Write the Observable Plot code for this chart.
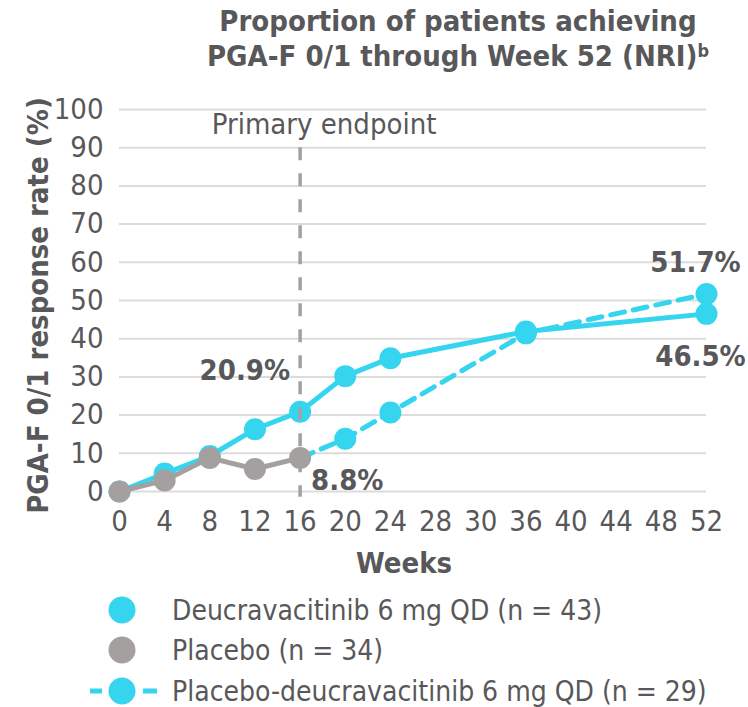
<!DOCTYPE html>
<html>
<head>
<meta charset="utf-8">
<script src="https://cdn.jsdelivr.net/npm/d3@7"></script>
<script src="https://cdn.jsdelivr.net/npm/@observablehq/plot@0.6"></script>
<style>
  html, body { margin: 0; padding: 0; background: #fff; }
  #wrap {
    position: relative; width: 748px; height: 707px; overflow: hidden;
    font-family: "DejaVu Sans Condensed", "DejaVu Sans", sans-serif;
    font-stretch: condensed;
    color: #58585a;
  }
  #chart { position: absolute; left: 0; top: 0; }
  #title {
    position: absolute; left: 186px; top: 4px; width: 544px;
    text-align: center; font-weight: bold; font-size: 29px; line-height: 35px;
  }
  #title .sup { font-size: 0.62em; position: relative; top: -0.5em; line-height: 0; }
  .lg-row {
    position: absolute; left: 84px; height: 34px;
    display: flex; align-items: center; font-size: 28px; white-space: nowrap;
  }
  .lg-row svg { width: 76px; height: 34px; margin-right: 12px; flex: none; }
</style>
</head>
<body>
<div id="wrap">
  <div id="chart"></div>
  <div id="title">Proportion of patients achieving<br>PGA-F 0/1 through Week 52 (NRI)<span class="sup">b</span></div>
  <div id="legend"></div>
</div>
<script>
// Response rates (%) by study week
const deucraWeeks = [0, 4, 8, 12, 16, 20, 24, 36, 52];
const deucraRate  = [0, 4.7, 9.3, 16.3, 20.9, 30.2, 34.9, 41.9, 46.5];

const placeboWeeks = [0, 4, 8, 12, 16];
const placeboRate  = [0, 2.9, 8.8, 5.9, 8.8];

// Placebo patients switched to deucravacitinib after Week 16
const switchWeeks = [16, 20, 24, 36, 52];
const switchRate  = [8.8, 13.8, 20.7, 41.4, 51.7];

const xTicks      = [0, 4, 8, 12, 16, 20, 24, 28, 32, 36, 40, 44, 48, 52];
const xTickLabels = ["0", "4", "8", "12", "16", "20", "24", "28", "30", "36", "40", "44", "48", "52"];
const yTicks      = [0, 10, 20, 30, 40, 50, 60, 70, 80, 90, 100];

const endpointWeek = 16;
const endpointText = "Primary endpoint";

const seriesNames = [
  "Deucravacitinib 6 mg QD (n = 43)",
  "Placebo (n = 34)",
  "Placebo-deucravacitinib 6 mg QD (n = 29)"
];

const CYAN = "#36d5ef";
const GREY = "#a5a0a0";
const TEXT = "#58585a";
const FONT = '"DejaVu Sans Condensed", "DejaVu Sans", sans-serif';

const toRows = (weeks, rates) => weeks.map((w, i) => ({week: w, rate: rates[i]}));
const deucra  = toRows(deucraWeeks, deucraRate);
const placebo = toRows(placeboWeeks, placeboRate);
const switched = toRows(switchWeeks, switchRate);
const switchedDots = switched.filter(d => d.week > endpointWeek);

const pick = (rows, week) => rows.filter(d => d.week === week);
const pct = d => `${d.rate.toFixed(1)}%`;

const valueLabel = {fontSize: 29, fontWeight: "bold", fill: TEXT, fontFamily: FONT, text: pct};

const chart = Plot.plot({
  width: 748,
  height: 707,
  marginTop: 109,
  marginBottom: 216,
  marginLeft: 119,
  marginRight: 42,
  style: {fontFamily: FONT, fontSize: "29px", color: TEXT, background: "transparent", overflow: "visible", fontStretch: "condensed"},
  x: {domain: [0, 52]},
  y: {domain: [0, 100]},
  marks: [
    Plot.gridY(yTicks, {stroke: "#dcdcdc", strokeOpacity: 1, strokeWidth: 2}),
    Plot.axisY(yTicks, {tickSize: 0, tickPadding: 16, label: null, fill: TEXT, fontSize: 29}),
    Plot.axisX(xTicks, {tickSize: 0, tickPadding: 19, label: null, fill: TEXT, fontSize: 29,
      tickFormat: d => xTickLabels[xTicks.indexOf(d)]}),
    Plot.text(["Weeks"], {frameAnchor: "bottom", dy: 81, dx: -9, fontSize: 29, fontWeight: "bold", fill: TEXT}),
    Plot.text(["PGA-F 0/1 response rate (%)"], {frameAnchor: "left", textAnchor: "middle", rotate: -90,
      dx: -81, dy: 5, fontSize: 29, fontWeight: "bold", fill: TEXT}),

    // Solid deucravacitinib arm
    Plot.line(deucra, {x: "week", y: "rate", stroke: CYAN, strokeWidth: 5}),
    Plot.dot(deucra, {x: "week", y: "rate", r: 11, fill: CYAN}),

    // Placebo → deucravacitinib after Week 16
    Plot.line(switched, {x: "week", y: "rate", stroke: CYAN, strokeWidth: 5, strokeDasharray: "14 9"}),
    Plot.dot(switchedDots, {x: "week", y: "rate", r: 11, fill: CYAN}),

    // Placebo arm
    Plot.line(placebo, {x: "week", y: "rate", stroke: GREY, strokeWidth: 5}),
    Plot.dot(placebo, {x: "week", y: "rate", r: 11, fill: GREY}),

    // Primary endpoint marker
    Plot.ruleX([endpointWeek], {y1: 90, y2: -1.5, stroke: GREY, strokeWidth: 3.5, strokeDasharray: "13 13"}),
    Plot.text([endpointText], {x: endpointWeek, y: 96, dx: 24, fontSize: 29, fill: TEXT}),

    // Value call-outs
    Plot.text(pick(deucra, 16), {x: "week", y: "rate", dx: -10, dy: -41, textAnchor: "end", ...valueLabel}),
    Plot.text(pick(placebo, 16), {x: "week", y: "rate", dx: 11, dy: 23, textAnchor: "start", ...valueLabel}),
    Plot.text(pick(switched, 52), {x: "week", y: "rate", dx: -11, dy: -31, ...valueLabel}),
    Plot.text(pick(deucra, 52), {x: "week", y: "rate", dx: -6, dy: 43, ...valueLabel})
  ]
});
document.getElementById("chart").append(chart);

// Legend
const legendRows = [
  {name: seriesNames[0], color: CYAN, dashed: false, cy: 610},
  {name: seriesNames[1], color: GREY, dashed: false, cy: 650},
  {name: seriesNames[2], color: CYAN, dashed: true,  cy: 691}
];
const legend = d3.select("#legend");
for (const row of legendRows) {
  const div = legend.append("div").attr("class", "lg-row").style("top", `${row.cy - 17}px`);
  const svg = div.append("svg").attr("viewBox", "0 0 76 34");
  if (row.dashed) {
    svg.append("line").attr("x1", 6).attr("x2", 18).attr("y1", 17).attr("y2", 17)
      .attr("stroke", row.color).attr("stroke-width", 5);
    svg.append("line").attr("x1", 59).attr("x2", 73).attr("y1", 17).attr("y2", 17)
      .attr("stroke", row.color).attr("stroke-width", 5);
  }
  svg.append("circle").attr("cx", 38).attr("cy", 17).attr("r", 13.5).attr("fill", row.color);
  div.append("span").text(row.name);
}
</script>
</body>
</html>
